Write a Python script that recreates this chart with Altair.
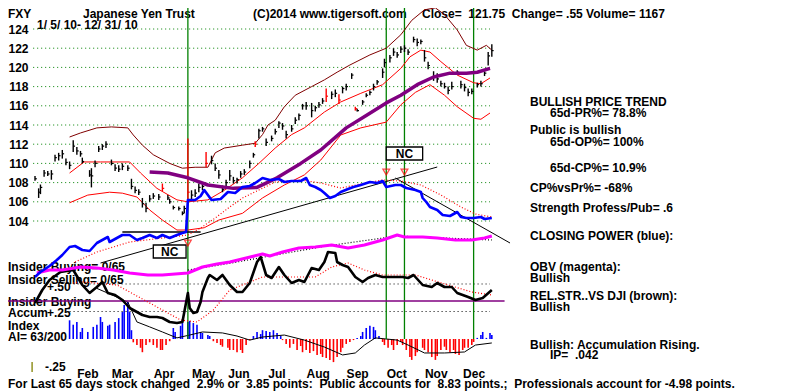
import altair as alt
import pandas as pd

# ---------------- data (trading-day index 0 = 1/5/10 ... 251 = 12/31/10) ----------------
bar_day = [0,2,3,5,7,9,11,13,15,17,19,21,23,25,26,30,31,33,35,37,39,42,44,46,48,51,53,55,57,59,61,63,65,68,70,73,74,76,79,81,82,84,86,88,90,92,94,97,99,101,103,105,107,109,111,113,115,118,120,121,123,125,127,130,132,134,136,138,141,143,145,147,149,152,154,156,158,160,163,165,167,169,171,174,176,177,180,182,184,186,188,191,192,195,197,199,201,203,205,208,210,212,214,216,219,221,223,225,227,229,232,234,236,238,240,243,245,247,249,251]
bar_high = [108.7,107.4,107.8,109.3,109.2,109.3,110.9,111.1,111.4,110.5,110.2,112.4,111.7,111.3,110.6,109.3,109.5,110.3,111.8,112.0,112.3,110.4,109.9,109.8,110.0,109.8,108.4,107.6,107.3,106.4,105.9,106.7,106.9,106.8,107.9,106.7,106.3,105.6,105.5,105.0,105.6,112.6,107.2,107.3,107.9,108.0,111.2,110.8,110.0,109.3,107.7,108.3,109.3,108.6,108.5,109.2,109.4,110.3,111.1,112.3,113.6,113.8,112.6,112.9,113.6,114.4,114.2,113.4,114.0,114.8,115.2,116.2,116.4,116.3,116.0,116.4,116.8,117.8,117.5,117.7,117.2,118.0,118.3,119.4,115.9,115.7,116.6,117.3,117.6,118.3,118.7,119.9,120.9,121.3,122.0,121.6,122.2,122.3,121.9,123.2,123.0,122.9,121.8,120.6,119.6,119.4,118.6,118.4,118.0,118.5,119.7,118.6,118.3,117.8,117.8,118.4,118.6,119.6,121.6,122.4]
bar_low = [108.2,106.4,106.8,108.6,108.7,108.3,110.2,110.3,110.5,109.8,109.4,111.2,110.9,110.7,110.0,108.6,107.5,109.6,111.2,111.4,111.6,109.8,109.2,109.1,109.3,109.2,107.3,106.9,106.7,105.4,104.9,106.0,106.3,106.2,107.1,106.2,105.8,105.2,105.1,104.6,104.8,106.0,106.2,106.5,107.0,107.2,109.6,109.9,109.2,108.4,107.0,107.6,108.2,107.9,107.9,108.5,108.8,109.5,110.6,111.7,112.6,113.3,111.8,112.3,113.0,113.7,113.5,112.6,113.3,114.1,114.5,115.6,115.6,114.8,115.4,115.8,116.2,116.4,116.7,116.9,116.2,117.3,117.6,118.8,115.5,115.4,116.1,116.9,117.1,117.6,118.2,118.9,120.0,120.5,121.2,121.0,121.5,121.6,121.3,122.6,122.2,122.4,120.6,119.8,118.6,118.4,118.0,117.8,117.2,117.7,119.2,117.8,117.5,117.0,117.2,117.9,118.0,119.1,120.2,121.1]
bar_close = [108.4,107.0,107.5,109.0,108.9,108.9,110.6,110.8,111.0,110.1,109.8,111.8,111.3,111.0,110.2,108.8,108.7,110.0,111.5,111.8,112.0,110.0,109.5,109.4,109.7,109.5,107.6,107.2,107.0,105.8,105.3,106.3,106.6,106.5,107.4,106.4,106.0,105.4,105.3,104.8,105.3,107.0,106.7,106.9,107.5,107.6,110.0,110.3,109.5,108.8,107.3,108.0,108.7,108.2,108.3,108.9,109.1,110.0,110.9,112.0,113.4,113.6,112.2,112.6,113.3,114.2,113.9,113.0,113.6,114.5,115.0,116.0,116.0,115.5,115.8,116.1,116.5,117.0,117.2,117.3,116.6,117.8,118.0,119.2,115.7,115.5,116.4,117.1,117.4,118.0,118.5,119.5,120.5,121.0,121.6,121.3,121.9,122.0,121.6,122.9,122.6,122.7,121.0,120.2,119.0,118.8,118.3,118.0,117.6,118.0,119.5,118.2,117.9,117.4,117.5,118.2,118.3,119.4,121.2,121.75]
red_bar_days = [70, 84, 94, 121, 160, 167, 176]

upper_day = [19,25,34,42,51,54,59,65,74,81,88,95,99,104,114,121,125,128,132,137,143,152,159,166,173,184,193,201,207,214,220,225,232,237,243,248,251]
upper_val = [112.75,113.17,113.7,113.8,113.7,112.96,111.9,110.9,110.0,109.5,109.6,109.6,111.1,111.6,111.9,112.1,113.0,114.0,114.5,115.9,117.1,118.0,118.7,119.5,120.25,121.3,122.0,123.4,124.9,126.0,126.2,125.5,123.9,122.3,121.8,122.3,121.8]
mid_day = [19,27,36,52,58,67,78,84,95,104,114,123,132,141,148,159,168,179,191,201,206,212,217,223,232,241,245,250]
mid_val = [109.0,110.15,110.15,110.15,109.0,107.4,106.2,106.0,106.2,107.2,108.5,110.0,111.6,113.0,113.7,115.35,116.4,117.3,118.2,119.9,121.1,121.8,121.6,120.6,119.2,118.4,118.3,118.9]
low_day = [19,29,41,48,56,63,70,78,84,93,101,114,125,137,148,157,168,179,193,201,209,217,225,232,241,245,250]
low_val = [105.9,106.7,107.0,106.9,106.5,105.15,104.1,103.06,103.06,103.3,104.1,104.8,106.4,107.75,108.8,110.35,112.96,113.7,114.3,116.1,117.4,118.2,117.1,115.9,114.7,114.6,115.25]
ma_day = [63,73,84,95,109,122,133,146,157,168,171,182,193,201,210,219,228,237,243,250]
ma_val = [109.1,109.0,108.5,107.75,107.4,107.5,108.5,110.0,111.4,113.2,113.7,115.0,116.3,117.1,118.2,119.0,119.4,119.4,119.5,119.9]
price_ticks = [104, 106, 108, 110, 112, 114, 116, 118, 120, 122, 124]

cp_day = [0,3,8,12,15,19,22,26,30,34,37,40,41,45,48,52,56,59,63,67,70,74,78,81,83,84,88,91,93,97,102,106,110,114,118,121,125,129,134,137,141,146,149,151,154,157,159,162,165,168,172,175,179,184,188,191,193,198,201,204,209,212,213,215,217,221,224,228,232,234,237,241,245,247,251]
cp_val = [-8.5,-6,-3,0,2.5,6.5,7,5,4.5,8.5,10,11.5,9,11,12.5,12.5,10,11,12.5,11,12.5,11,12.5,13.5,14,30,30,32,35,30,30.5,34,33.5,36.5,37,38.5,41,40,40.5,39,39.5,39.5,41,37.5,36.5,35,33.5,31,32,34,35.5,36.5,37.5,39,38.5,39.5,36.5,37.5,37.5,36,35,34,31,29,26.5,25,22.5,22,24,21.5,21,21,21.5,20.5,21]
cpma_day = [22,34,52,70,84,91,99,107,114,123,132,146,157,168,179,191,201,212,223,234,242,251]
cpma_val = [-1,4,9,11,12.5,16,21,26.5,31,35,39,40,38.5,36,38,40,39.5,37.5,32.5,26.5,23,21.5]
trend_up_day = [36, 221]
trend_up_val = [-1.5, 46.5]
trend_dn_day = [198, 261]
trend_dn_val = [41, 8.5]
flat_day = [48, 91]
flat_val = [14, 14]
nc_day0 = [65, 193]
nc_day1 = [83, 213]
nc_lo = [1, 50]
nc_hi = [7.5, 56.5]
nc_mark_day = [84, 193, 203]
nc_mark_val = [8.5, 44, 44]

obv_day = [1,8,15,25,34,43,52,62,70,84,92,100,107,116,125,129,136,145,154,163,172,181,191,199,203,213,221,231,240,247,251]
obv_val = [17,20,20,23,22,20,17,15,15,17,23,26,28,32,36,34,38,42,43,45,42,45,50,55,53,53,52,50,50,52,54]
obvma_day = [84,105,126,160,199,225,251]
obvma_val = [20,26,33,44,54,52,50]

rs_day = [0,4,8,14,21,26,30,34,37,40,44,48,52,56,59,63,67,70,74,78,81,84,85,87,89,91,92,95,96,100,103,107,111,114,118,122,124,127,130,134,137,141,145,148,152,156,159,161,165,166,169,172,176,180,183,187,191,196,202,205,208,213,218,221,225,229,232,238,242,246,251]
rs_val = [13.5,20,25,29,30,22.5,18.5,21.5,24,18.5,17.5,15,11,9,7.5,6.5,6.5,6,4,3.5,4,18.5,11,8.5,9,14,19,26,27.5,25,27.5,22.5,19,19,23.5,34,36.5,27.5,26,31.5,27.5,23.5,25,24,31,30,34,39,38.5,34,32.5,31.5,26.5,24,26,27.5,26.5,26.5,26.5,26,27.5,22.5,21.5,23.5,21.5,21.5,18.5,16.5,15,16,20]
rsma_day = [21,26,45,62,80,89,98,107,125,145,154,163,172,181,191,209,227,240,251]
rsma_val = [23.5,24,22.5,14,5,4,10,20,26.5,26.5,26.5,31.5,33.5,30,27.5,27.5,22.5,19,17.5]
rs_ref_level = 14.5

ai_day = [19,21,23,25,26,29,32,34,36,37,40,41,44,46,48,49,51,52,53,54,56,58,59,61,63,65,67,69,70,72,74,76,77,80,81,84,85,87,89,91,92,95,96,98,100,102,103,106,107,109,111,113,114,116,118,120,122,124,125,127,129,131,133,135,136,138,140,142,144,146,147,149,151,153,155,157,158,160,162,164,166,168,169,171,173,175,177,179,180,182,184,186,187,189,191,192,194,196,197,199,201,202,204,206,207,209,210,213,214,216,218,220,221,223,225,226,228,230,231,233,235,236,238,240,241,243,245,246,248,250,251]
ai_val = [0.17,0.13,0.155,0.064,0.1,0.064,0.11,0.13,0.2,0.155,0.12,0.13,0.155,0.19,0.245,0.31,0.336,0.245,0.08,-0.03,-0.055,-0.08,-0.12,-0.055,-0.03,-0.055,-0.08,-0.1,-0.1,-0.055,-0.02,0.1,0.064,0.12,0.145,0.155,0.165,0.145,0.13,0.064,0.055,0.036,0.027,-0.02,-0.036,-0.055,-0.07,-0.08,-0.1,-0.1,-0.12,-0.1,-0.127,-0.055,-0.01,0.027,0.064,0.045,0.08,0.073,0.064,0.08,0.055,0.027,-0.01,-0.045,-0.08,-0.045,-0.1,-0.064,-0.12,-0.1,-0.127,-0.11,-0.145,-0.136,-0.164,-0.173,-0.19,-0.21,-0.164,-0.12,-0.08,-0.045,-0.027,-0.01,0.01,0.027,0.064,0.1,0.12,0.11,0.08,0.027,-0.027,-0.055,-0.08,-0.055,-0.1,-0.055,-0.027,-0.055,-0.1,-0.164,-0.19,-0.155,-0.12,-0.08,-0.1,-0.12,-0.164,-0.19,-0.155,-0.1,-0.07,-0.1,-0.12,-0.1,-0.136,-0.145,-0.1,-0.08,-0.08,-0.055,-0.027,0.01,0.036,0.064,0.01,0.055,0.036]
aima_day = [34,41,51,56,63,70,78,85,92,103,111,118,125,137,148,159,169,176,181,187,199,205,214,225,236,242,251]
aima_val = [0.46,0.41,0.336,0.155,0.11,0.064,0.01,0.036,0.064,0.055,0.027,-0.01,0.018,0.036,-0.01,-0.073,-0.145,-0.127,-0.055,0.01,-0.01,-0.055,-0.127,-0.127,-0.118,-0.055,-0.036]
ai_grid_levels = [0.25, 0.5]
signal_days = [84, 193, 203, 241]
month_start_days = [18, 37, 60, 81, 101, 123, 144, 166, 188, 209, 230]
month_names = ["Feb", "Mar", "Apr", "May", "Jun", "Jul", "Aug", "Sep", "Oct", "Nov", "Dec"]

for a, b in [(bar_day, bar_high), (bar_day, bar_low), (bar_day, bar_close), (upper_day, upper_val),
             (mid_day, mid_val), (low_day, low_val), (ma_day, ma_val), (cp_day, cp_val),
             (cpma_day, cpma_val), (obv_day, obv_val), (rs_day, rs_val), (rsma_day, rsma_val),
             (ai_day, ai_val), (aima_day, aima_val)]:
    assert len(a) == len(b), (len(a), len(b))

# ---------------- scales & helpers ----------------
FONT = "Liberation Sans"
W, H = 769, 383
xs = alt.Scale(domain=[-14.835, 407.69], nice=False, zero=False)
price_s = alt.Scale(domain=[86.2917, 126.1875], nice=False, zero=False)
cp_s = alt.Scale(domain=[-65.5, 126], nice=False, zero=False)
obv_s = alt.Scale(domain=[-101, 282], nice=False, zero=False)
rs_s = alt.Scale(domain=[-30.5, 161], nice=False, zero=False)
ai_s = alt.Scale(domain=[-0.47273, 3.00909], nice=False, zero=False)

month_expr = "{" + ",".join(f"'{d}':'{m}'" for d, m in zip(month_start_days, month_names)) + "}"
month_axis = alt.Axis(values=month_start_days, orient="bottom", offset=-20, domain=False, ticks=False,
                      tickSize=0, grid=False, labelPadding=2, labelAlign="left", labelOffset=9,
                      labelBaseline="middle", labelFont=FONT, labelFontSize=12, labelFontWeight="bold",
                      labelColor="black", labelExpr=f"{month_expr}[datum.value]", title=None)
price_axis = alt.Axis(values=price_ticks, format="d", orient="left", offset=-20, domain=False,
                      ticks=False, tickSize=0, grid=False, labelPadding=0, labelFont=FONT,
                      labelFontSize=12, labelFontWeight="bold", labelColor="black",
                      labelBaseline="middle", title=None)


def X(f="day"):
    return alt.X(f"{f}:Q", scale=xs, axis=month_axis)


def Y(f, scale):
    return alt.Y(f"{f}:Q", scale=scale, axis=price_axis if scale is price_s else None)


def series(days, vals, scale, color, width, dash=None):
    df = pd.DataFrame({"day": days, "v": vals})
    kw = dict(color=color, strokeWidth=width, clip=True, strokeJoin="round")
    if dash:
        kw["strokeDash"] = dash
    return alt.Chart(df).mark_line(**kw).encode(x=X(), y=Y("v", scale))


DUMMY = alt.Data(values=[{"k": 0}])


def txt(s, x, y, align="left", color="black"):
    s = s.replace("  ", "\u00a0 ")
    return alt.Chart(DUMMY).mark_text(
        text=s, align=align, baseline="middle", font=FONT, fontSize=12,
        fontWeight="bold", color=color
    ).encode(x=alt.value(max(x, 8) - 8), y=alt.value(y - 8))


# ---------------- price panel ----------------
grid_df = pd.DataFrame({"p": price_ticks, "x0": -1, "x1": 250})
price_grid = alt.Chart(grid_df).mark_rule(color="#008000", strokeDash=[1, 3], strokeWidth=1).encode(
    x=X("x0"), x2="x1:Q", y=Y("p", price_s))

bars_df = pd.DataFrame({"day": bar_day, "hi": bar_high, "lo": bar_low, "cl": bar_close})
bars_df["col"] = ["r" if d in red_bar_days else "k" for d in bar_day]
col_enc = alt.Color("col:N", scale=alt.Scale(domain=["k", "r"], range=["black", "#ff0000"]), legend=None)
bars = alt.Chart(bars_df).mark_rule(strokeWidth=1.4, clip=True).encode(
    x=X(), y=Y("lo", price_s), y2="hi:Q", color=col_enc)
closes = alt.Chart(bars_df).transform_calculate(d2="datum.day + 1.0").mark_rule(
    strokeWidth=1.2, clip=True).encode(x=X(), x2="d2:Q", y=Y("cl", price_s), color=col_enc)

price_group = alt.layer(
    price_grid,
    series(upper_day, upper_val, price_s, "#800000", 1),
    series(mid_day, mid_val, price_s, "#ff0000", 1),
    series(low_day, low_val, price_s, "#ff0000", 1),
    bars, closes,
    series(ma_day, ma_val, price_s, "#800080", 3.5),
)

# ---------------- closing power ----------------
nc_df = pd.DataFrame({"d0": nc_day0, "d1": nc_day1, "lo": nc_lo, "hi": nc_hi})
nc_box = alt.Chart(nc_df).mark_rect(fill="white", stroke="black", strokeWidth=1.3).encode(
    x=X("d0"), x2="d1:Q", y=Y("lo", cp_s), y2="hi:Q")
nc_txt = alt.Chart(nc_df).transform_calculate(
    dc="(datum.d0 + datum.d1) / 2", vc="(datum.lo + datum.hi) / 2"
).mark_text(text="NC", font=FONT, fontSize=12, fontWeight="bold", color="black", baseline="middle").encode(
    x=X("dc"), y=Y("vc", cp_s))
nc_marks = alt.Chart(pd.DataFrame({"day": nc_mark_day, "v": nc_mark_val})).mark_point(
    shape="triangle-down", color="#ff0000", size=45, strokeWidth=1.3).encode(x=X(), y=Y("v", cp_s))

cp_group = alt.layer(
    series(trend_up_day, trend_up_val, cp_s, "black", 1),
    series(trend_dn_day, trend_dn_val, cp_s, "black", 1),
    series(flat_day, flat_val, cp_s, "black", 1.3),
    series(cpma_day, cpma_val, cp_s, "#ff0000", 1.2, dash=[1, 2]),
    series(cp_day, cp_val, cp_s, "#0000ff", 2.6),
    nc_box, nc_txt, nc_marks,
)

# ---------------- OBV ----------------
obv_group = alt.layer(
    series(obvma_day, obvma_val, obv_s, "black", 1.2, dash=[1, 2]),
    series(obv_day, obv_val, obv_s, "#ff00ff", 3),
)

# ---------------- relative strength ----------------
ref_df = pd.DataFrame({"x0": [-15], "x1": [258], "v": [rs_ref_level]})
rs_group = alt.layer(
    alt.Chart(ref_df).mark_rule(color="#800080", strokeWidth=1.5, clip=True).encode(
        x=X("x0"), x2="x1:Q", y=Y("v", rs_s)),
    series(rsma_day, rsma_val, rs_s, "#ff0000", 1.2, dash=[1, 2]),
    series(rs_day, rs_val, rs_s, "black", 2.6),
)

# ---------------- accumulation index ----------------
ai_df = pd.DataFrame({"day": ai_day, "v": ai_val, "zero": 0.0})
ai_bars = alt.Chart(ai_df).mark_rule(strokeWidth=1.6).encode(
    x=X("day"), y=Y("v", ai_s), y2="zero:Q",
    color=alt.condition("datum.v > 0", alt.value("#0000ff"), alt.value("#ff0000")))
ai_grid = alt.Chart(pd.DataFrame({"v": ai_grid_levels, "x0": 19, "x1": 250})).mark_rule(
    color="black", strokeDash=[1, 3], strokeWidth=1).encode(x=X("x0"), x2="x1:Q", y=Y("v", ai_s))
green = alt.Chart(pd.DataFrame({"day": signal_days, "lo": 0.0, "hi": 3.1})).mark_rule(
    color="#008000", strokeWidth=1.3, clip=True).encode(x=X(), y=Y("lo", ai_s), y2="hi:Q")
olive = alt.Chart(pd.DataFrame({"day": [-1.6], "lo": [-0.3], "hi": [-0.21]})).mark_rule(
    color="#808000", strokeWidth=1.3).encode(x=X(), y=Y("lo", ai_s), y2="hi:Q")

ai_group = alt.layer(
    ai_grid, ai_bars,
    series(aima_day, aima_val, ai_s, "black", 1),
    green, olive,
)

# ---------------- texts ----------------
texts = [
    txt("FXY", 8, 14),
    txt("Japanese Yen Trust", 83, 14),
    txt("1/ 5/ 10- 12/ 31/ 10", 37, 25),
    txt("(C)2014 www.tigersoft.com", 253, 14),
    txt("Close=  121.75  Change= .55 Volume= 1167", 422, 14),
    txt("BULLISH PRICE TREND", 530, 102),
    txt("65d-PR%= 78.8%", 550, 113),
    txt("Public is bullish", 530, 130),
    txt("65d-OP%= 100%", 550, 142),
    txt("65d-CP%= 10.9%", 550, 168),
    txt("CP%vsPr%= -68%", 530, 188),
    txt("Strength Profess/Pub= .6", 530, 208),
    txt("CLOSING POWER (blue):", 530, 236),
    txt("OBV (magenta):", 530, 267),
    txt("Bullish", 530, 278),
    txt("REL.STR..VS DJI (brown):", 530, 296),
    txt("Bullish", 530, 307),
    txt("Bullish: Accumulation Rising.", 530, 345),
    txt("IP=  .042", 550, 355),
    txt("Insider Buying= 0/65", 8, 267),
    txt("Insider Selling= 0/65", 8, 280),
    txt("+.50", 47, 287),
    txt("Insider Buying", 8, 302),
    txt("Accum", 8, 313),
    txt("+.25", 47, 313),
    txt("Index", 8, 326),
    txt("AI= 63/200", 8, 337),
    txt("-.25", 45, 367),
    txt("For Last 65 days stock changed  2.9% or  3.85 points:  Public accounts for  8.83 points.;  "
        "Professionals account for -4.98 points.", 8, 384),
]

chart = alt.layer(
    *texts, ai_group, rs_group, obv_group, price_group, cp_group
).resolve_scale(y="independent").properties(
    width=W, height=H, autosize=alt.AutoSizeParams(type="none"), padding=0, background="white"
).configure_view(stroke=None)

chart.save("out.html", embed_options={"renderer": "svg", "actions": False})
